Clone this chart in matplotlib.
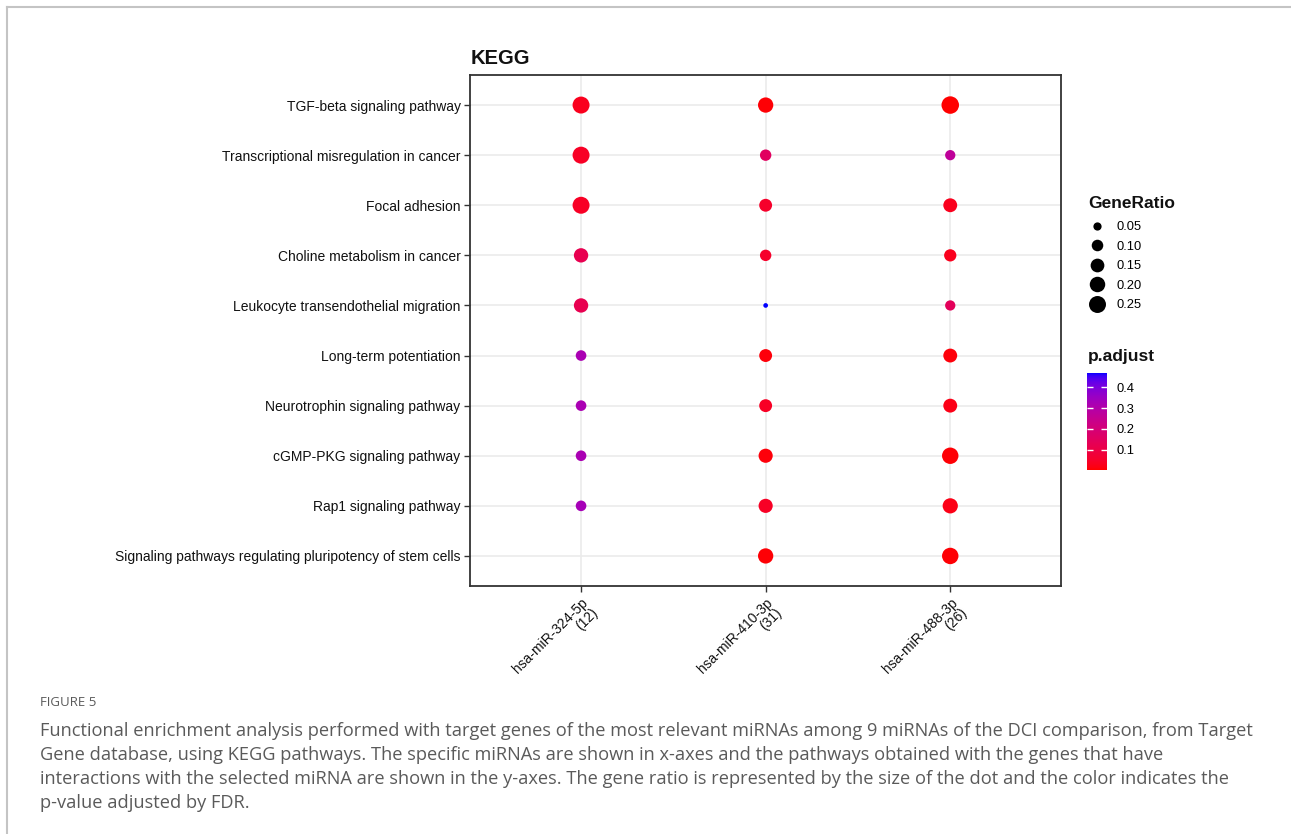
import numpy as np
import matplotlib
matplotlib.use("Agg")
import matplotlib.pyplot as plt
from matplotlib.colors import LinearSegmentedColormap, Normalize
from matplotlib.lines import Line2D

# ---------------------------------------------------------------- data
pathways = [
    "TGF-beta signaling pathway",
    "Transcriptional misregulation in cancer",
    "Focal adhesion",
    "Choline metabolism in cancer",
    "Leukocyte transendothelial migration",
    "Long-term potentiation",
    "Neurotrophin signaling pathway",
    "cGMP-PKG signaling pathway",
    "Rap1 signaling pathway",
    "Signaling pathways regulating pluripotency of stem cells",
]
mirnas = ["hsa-miR-324-5p", "hsa-miR-410-3p", "hsa-miR-488-3p"]
mirna_gene_counts = [12, 31, 26]

# GeneRatio per pathway (None = pathway not enriched for that miRNA)
gene_ratio_324 = [0.250, 0.250, 0.250, 0.167, 0.167, 0.083, 0.083, 0.083, 0.083, None]
gene_ratio_410 = [0.194, 0.097, 0.129, 0.097, 0.032, 0.129, 0.129, 0.161, 0.161, 0.194]
gene_ratio_488 = [0.269, 0.077, 0.154, 0.115, 0.077, 0.154, 0.154, 0.231, 0.192, 0.231]

# adjusted p-values
padj_324 = [0.030, 0.040, 0.040, 0.120, 0.120, 0.320, 0.320, 0.320, 0.330, None]
padj_410 = [0.005, 0.150, 0.050, 0.050, 0.470, 0.010, 0.040, 0.010, 0.040, 0.005]
padj_488 = [0.001, 0.270, 0.030, 0.030, 0.140, 0.010, 0.020, 0.005, 0.020, 0.005]

size_breaks = [0.05, 0.10, 0.15, 0.20, 0.25]
padj_ticks = [0.1, 0.2, 0.3, 0.4]

# ---------------------------------------------------------------- helpers
W, H, DPI = 1291, 834, 100


def fx(px):
    return px / W


def fy(py):
    return 1 - py / H


def _srgb_to_lab(rgb):
    c = np.asarray(rgb, float)
    lin = np.where(c <= 0.04045, c / 12.92, ((c + 0.055) / 1.055) ** 2.4)
    M = np.array([[0.4124, 0.3576, 0.1805],
                  [0.2126, 0.7152, 0.0722],
                  [0.0193, 0.1192, 0.9505]])
    xyz = M @ lin / np.array([0.95047, 1.0, 1.08883])
    f = np.where(xyz > 0.008856, np.cbrt(xyz), 7.787 * xyz + 16 / 116)
    return np.array([116 * f[1] - 16, 500 * (f[0] - f[1]), 200 * (f[1] - f[2])])


def _lab_to_srgb(lab):
    L, a, b = lab
    fyv = (L + 16) / 116
    fxv = fyv + a / 500
    fzv = fyv - b / 200
    f = np.array([fxv, fyv, fzv])
    xyz = np.where(f ** 3 > 0.008856, f ** 3, (f - 16 / 116) / 7.787)
    xyz = xyz * np.array([0.95047, 1.0, 1.08883])
    Minv = np.array([[3.2406, -1.5372, -0.4986],
                     [-0.9689, 1.8758, 0.0415],
                     [0.0557, -0.2040, 1.0570]])
    lin = np.clip(Minv @ xyz, 0, 1)
    c = np.where(lin <= 0.0031308, 12.92 * lin, 1.055 * lin ** (1 / 2.4) - 0.055)
    return np.clip(c, 0, 1)


# red -> blue gradient interpolated in CIELAB
lab_lo = _srgb_to_lab([1, 0, 0])
lab_hi = _srgb_to_lab([0, 0, 1])
grad = [_lab_to_srgb(lab_lo + t * (lab_hi - lab_lo)) for t in np.linspace(0, 1, 256)]
cmap = LinearSegmentedColormap.from_list("red_blue_lab", grad)

# ---------------------------------------------------------------- tidy table
ratios = [gene_ratio_324, gene_ratio_410, gene_ratio_488]
padjs = [padj_324, padj_410, padj_488]
xs, ys, gr, pa = [], [], [], []
n_path = len(pathways)
for i in range(len(mirnas)):
    for j in range(n_path):
        if ratios[i][j] is None:
            continue
        xs.append(i + 1)
        ys.append(n_path - j)
        gr.append(ratios[i][j])
        pa.append(padjs[i][j])
gr = np.array(gr)
pa = np.array(pa)

gr_lo, gr_hi = gr.min(), gr.max()
D_MIN, D_MAX = 4.7, 17.5  # marker diameter range, pixels


def ratio_to_area(v):
    frac = np.clip((np.asarray(v, float) - gr_lo) / (gr_hi - gr_lo), 0, 1)
    d_px = D_MIN + (D_MAX - D_MIN) * np.sqrt(frac)
    d_pt = d_px * 72 / DPI
    return d_pt ** 2


# ---------------------------------------------------------------- figure
plt.rcParams["font.family"] = ["Liberation Sans", "DejaVu Sans"]
fig = plt.figure(figsize=(W / DPI, H / DPI), dpi=DPI)
fig.patch.set_facecolor("white")

left_px, right_px, top_px, bot_px = 470.3, 1061, 75, 586
ax = fig.add_axes([fx(left_px), fy(bot_px), (right_px - left_px) / W, (bot_px - top_px) / H])

norm = Normalize(vmin=pa.min(), vmax=pa.max())
sc = ax.scatter(xs, ys, s=ratio_to_area(gr), c=pa, cmap=cmap, norm=norm,
                edgecolors="none", zorder=3)

ax.set_xlim(0.4, len(mirnas) + 0.6)
ax.set_ylim(0.4, n_path + 0.6)
ax.set_xticks(range(1, len(mirnas) + 1))
ax.set_xticklabels([f"{m}\n({n})" for m, n in zip(mirnas, mirna_gene_counts)],
                   rotation=45, ha="right", va="top", rotation_mode="anchor",
                   multialignment="right", linespacing=0.95)
ax.set_yticks(range(n_path, 0, -1))
ax.set_yticklabels(pathways)
ax.tick_params(axis="both", length=4, width=1.0, color="#333333",
               labelsize=10.0, labelcolor="#111111", pad=3)
ax.set_axisbelow(True)
ax.grid(True, color="#EBEBEB", linewidth=1.2)
for sp in ax.spines.values():
    sp.set_color("#333333")
    sp.set_linewidth(1.3)

fig.text(fx(471), fy(64), "KEGG", fontsize=14.5, fontweight="bold",
         ha="left", va="baseline", color="#111111")

# GeneRatio size legend
fig.text(fx(1088), fy(207.5), "GeneRatio", fontsize=12.5, fontweight="bold",
         ha="left", va="baseline", color="#111111")
handles = [Line2D([], [], linestyle="none", marker="o", markerfacecolor="black",
                  markeredgecolor="none", markersize=np.sqrt(ratio_to_area(b)))
           for b in size_breaks]
leg = fig.legend(handles, [f"{b:.2f}" for b in size_breaks],
                 loc="center left", bbox_to_anchor=(fx(1087.6), fy(266.2)),
                 frameon=False, fontsize=9.3,
                 handlelength=1.5, handletextpad=0.7,
                 labelspacing=0.57, borderpad=0, borderaxespad=0)

# p.adjust colour bar
cax = fig.add_axes([fx(1087), fy(470), 20 / W, 97 / H])
cb = fig.colorbar(sc, cax=cax, ticks=padj_ticks)
cb.outline.set_visible(False)
cax.tick_params(direction="in", length=4, width=1, color="white",
                left=True, right=True, labelsize=9.3, pad=7)
cb.ax.set_yticklabels([f"{t:.1f}" for t in padj_ticks])
fig.text(fx(1088), fy(361), "p.adjust", fontsize=12.5, fontweight="bold",
         ha="left", va="baseline", color="#111111")

# page frame
fig.add_artist(Line2D([fx(7), fx(7)], [fy(7), 0], transform=fig.transFigure,
                      color="#c4c4c4", linewidth=1.5))
fig.add_artist(Line2D([fx(7), 1], [fy(7), fy(7)], transform=fig.transFigure,
                      color="#c4c4c4", linewidth=1.5))

# caption
cap_font = ["Open Sans", "DejaVu Sans"]
fig.text(fx(40), fy(703), "FIGURE 5", fontsize=9.5, color="#5a5a5a",
         family=cap_font, ha="left", va="center")
caption = [
    "Functional enrichment analysis performed with target genes of the most relevant miRNAs among 9 miRNAs of the DCI comparison, from Target",
    "Gene database, using KEGG pathways. The specific miRNAs are shown in x-axes and the pathways obtained with the genes that have",
    "interactions with the selected miRNA are shown in the y-axes. The gene ratio is represented by the size of the dot and the color indicates the",
    "p-value adjusted by FDR.",
]
cap_y = [731, 755, 779, 803]
fs = 12.5
probe = fig.text(fx(40), fy(cap_y[0]), caption[0], fontsize=fs, family=cap_font)
fig.canvas.draw()
fs *= (1262 - 40) / probe.get_window_extent().width
probe.remove()
for line, yy in zip(caption, cap_y):
    fig.text(fx(40), fy(yy), line, fontsize=fs, color="#5a5a5a", family=cap_font,
             ha="left", va="center")

fig.savefig("out.png", dpi=DPI)
